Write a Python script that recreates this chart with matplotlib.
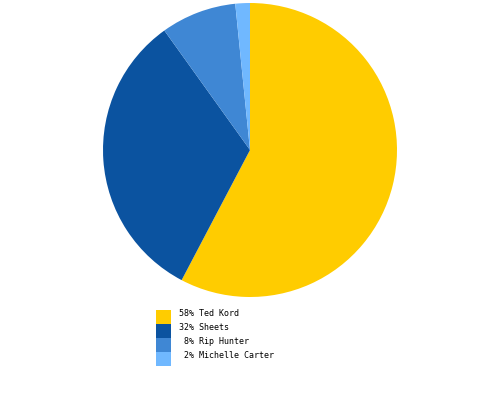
import matplotlib
matplotlib.use("Agg")
import matplotlib.pyplot as plt
from matplotlib.patches import Rectangle

names = ['Ted Kord', 'Sheets', 'Rip Hunter', 'Michelle Carter']
shares = [57.7, 32.4, 8.3, 1.6]
colors = ['#FFCC00', '#0B53A0', '#3F87D4', '#70B8FF']

fig = plt.figure(figsize=(5, 4), dpi=100)
W, H = 500, 400

# pie area in pixels: left 103, top 3, size 294
ax = fig.add_axes([103 / W, (H - 297) / H, 294 / W, 294 / H])
ax.pie(shares, colors=colors, startangle=90, counterclock=False,
       wedgeprops=dict(linewidth=0))
ax.set_aspect('equal')
ax.set_xlim(-1, 1)
ax.set_ylim(-1, 1)
ax.axis('off')

# legend drawn by hand, text sits a little above the swatch centre
for i, (n, s, c) in enumerate(zip(names, shares, colors)):
    top = 310 + i * 14
    fig.patches.append(Rectangle((156 / W, (H - top - 14) / H), 15 / W, 14 / H,
                                 transform=fig.transFigure, facecolor=c,
                                 edgecolor='none'))
    fig.text(179 / W, (H - top - 4) / H, f"{round(s):>2d}% {n}",
             family='DejaVu Sans Mono', fontsize=6.0, va='center', ha='left')

fig.savefig('out.png', dpi=100)
